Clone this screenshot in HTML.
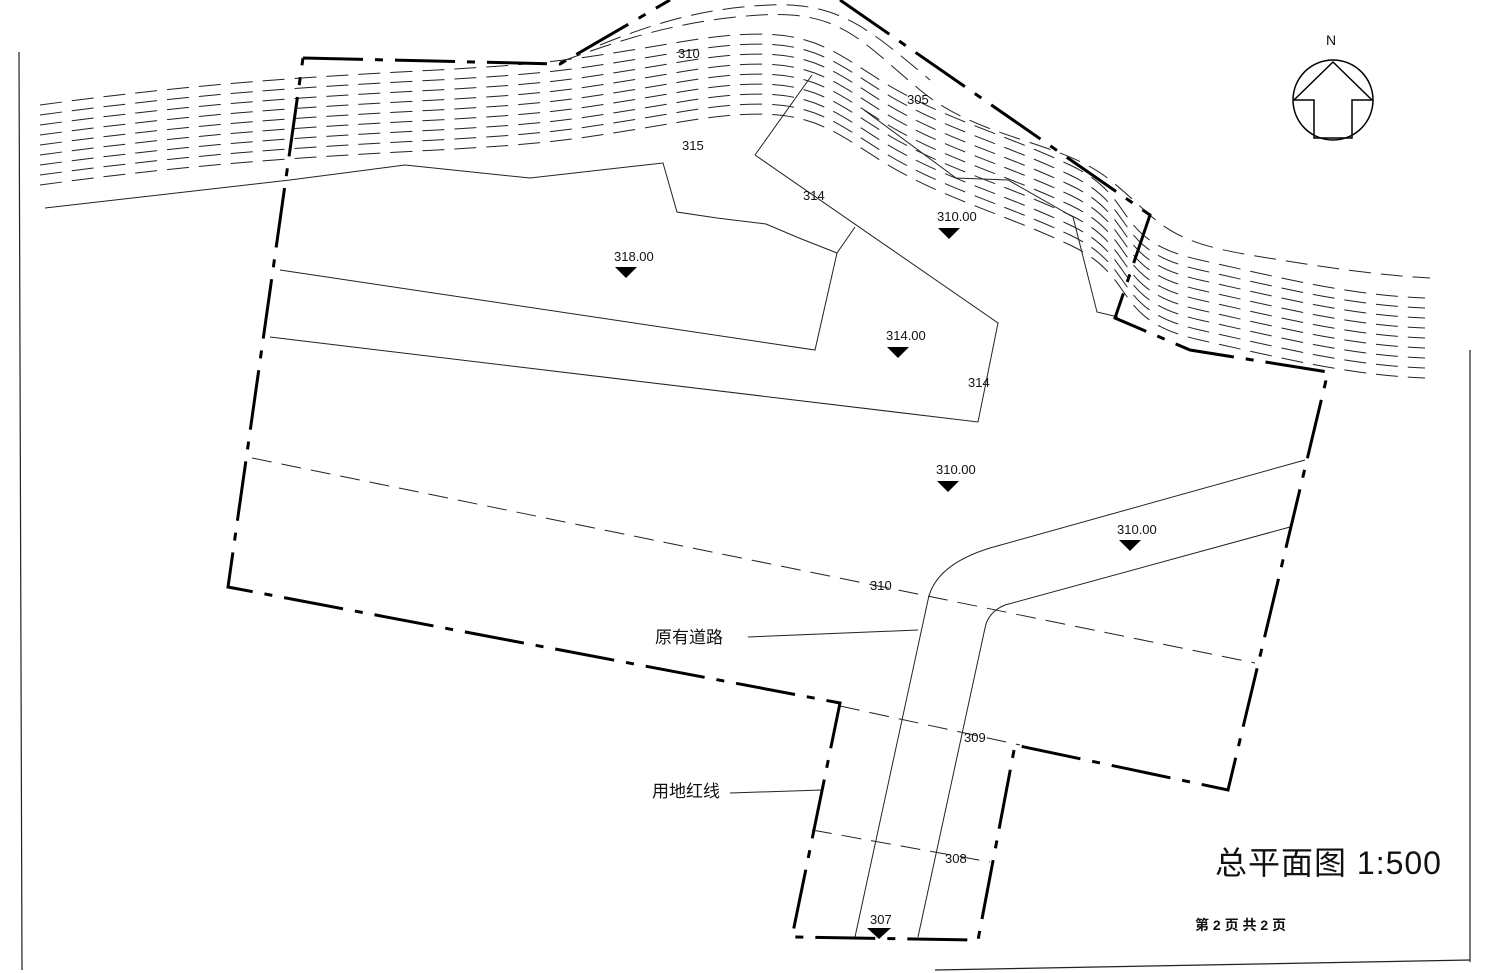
<!DOCTYPE html>
<html><head><meta charset="utf-8"><style>
html,body{margin:0;padding:0;background:#fff;}
svg{display:block;}
text{font-family:"Liberation Sans","Noto Sans CJK SC",sans-serif;fill:#111;}
</style></head><body>
<svg width="1488" height="973" viewBox="0 0 1488 973" xmlns="http://www.w3.org/2000/svg">
<rect width="1488" height="973" fill="#fff"/>
<g stroke="#222" stroke-width="1.2" fill="none">
<line x1="19" y1="52" x2="22" y2="970"/>
<line x1="1470" y1="350" x2="1470" y2="962"/>
<line x1="935" y1="970" x2="1470" y2="960"/>
</g>
<g stroke="#222" stroke-width="1" fill="none" stroke-dasharray="22,10">
<path id="c" d="M40,155 C150,140 250,130 400,122 S560,112 680,92 S820,92 880,130 S1000,182 1070,215 S1110,290 1200,310 S1350,345 1425,348"/>
<use href="#c" transform="translate(0,-50)"/>
<use href="#c" transform="translate(0,-40)"/>
<use href="#c" transform="translate(0,-30)"/>
<use href="#c" transform="translate(0,-20)"/>
<use href="#c" transform="translate(0,-10)"/>
<use href="#c" transform="translate(0,10)"/>
<use href="#c" transform="translate(0,20)"/>
<use href="#c" transform="translate(0,30)"/>
<path d="M560,62 C620,40 680,20 760,15 S860,40 920,90 S1060,140 1110,180 S1160,240 1250,255 S1380,275 1430,278"/>
<path d="M600,45 C650,25 700,8 770,5 S870,30 930,80"/>
</g>
<g stroke="#222" stroke-width="1" fill="none">
<polyline points="45,208 290,180 405,165 530,178 663,163 677,212 717,218 766,224 799,238 837,253 855,227"/>
<line x1="812" y1="75" x2="755" y2="155"/>
<polyline points="755,155 998,323 978,422 270,337"/>
<polyline points="280,270 815,350 837,253"/>
<polyline points="864,110 956,178 1008,180 1073,217 1097,312 1118,317"/>
<path d="M1305,460 L990,548 Q935,565 928,600 L855,937"/>
<path d="M1290,527 L1005,605 Q988,612 985,628 L918,937"/>
<line x1="748" y1="637" x2="918" y2="630"/>
<line x1="730" y1="793" x2="822" y2="790"/>
</g>
<g stroke="#222" stroke-width="1" fill="none" stroke-dasharray="20,10">
<line x1="252" y1="458" x2="1255" y2="663"/>
<line x1="840" y1="706" x2="1020" y2="745"/>
<line x1="812" y1="830" x2="990" y2="862"/>
</g>
<polyline points="303,58 560,64 670,0" fill="none" stroke="#000" stroke-width="3" stroke-dasharray="60,12,8,12"/>
<polyline points="840,0 1150,215 1115,318 1190,350 1328,372 1228,790 1015,745 978,940 792,937 840,703 228,587 303,58" fill="none" stroke="#000" stroke-width="3" stroke-dasharray="60,12,8,12"/>
<g font-size="13">
<text x="678" y="58">310</text>
<text x="907" y="104">305</text>
<text x="682" y="150">315</text>
<text x="803" y="200">314</text>
<text x="968" y="387">314</text>
<text x="870" y="590">310</text>
<text x="964" y="742">309</text>
<text x="945" y="863">308</text>
<text x="870" y="924">307</text>
<text x="614" y="261">318.00</text>
<text x="937" y="221">310.00</text>
<text x="886" y="340">314.00</text>
<text x="936" y="474">310.00</text>
<text x="1117" y="534">310.00</text>
</g>
<g fill="#000">
<polygon points="615,267 637,267 626,278"/>
<polygon points="938,228 960,228 949,239"/>
<polygon points="887,347 909,347 898,358"/>
<polygon points="937,481 959,481 948,492"/>
<polygon points="1119,540 1141,540 1130,551"/>
<polygon points="867,928 891,928 879,939"/>
</g>
<text x="655" y="643" font-size="17">原有道路</text>
<text x="652" y="797" font-size="17">用地红线</text>
<text x="1215" y="874" font-size="32" letter-spacing="1">总平面图 1:500</text>
<text x="1195" y="930" font-size="14" font-weight="bold">第 2 页  共 2 页</text>
<circle cx="1333" cy="100" r="40" fill="none" stroke="#000" stroke-width="1.5"/>
<polygon points="1333,62 1294,100 1314,100 1314,138 1352,138 1352,100 1372,100" fill="none" stroke="#000" stroke-width="1.5"/>
<text x="1326" y="45" font-size="14">N</text>
</svg>
</body></html>
